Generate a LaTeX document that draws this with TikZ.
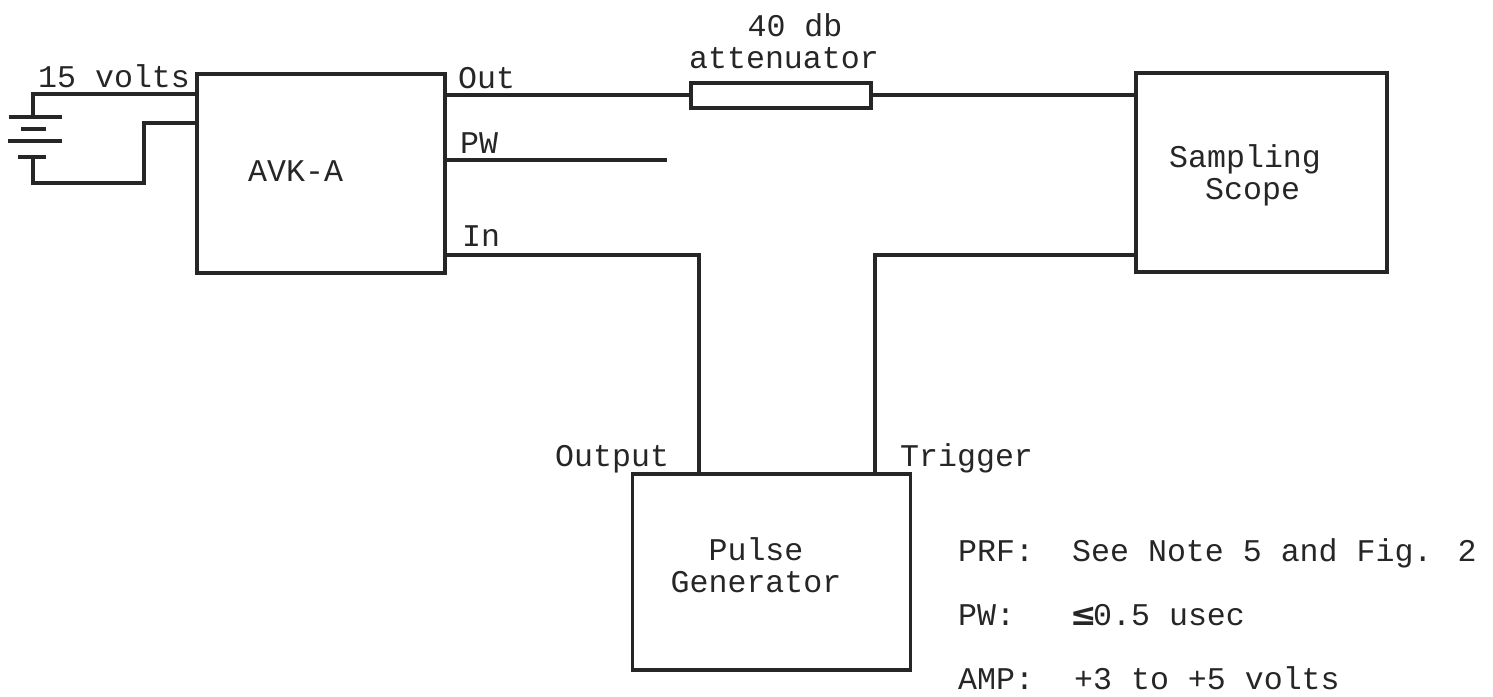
\documentclass[tikz,border=0pt]{standalone}
\usepackage{fontspec}
\setmainfont{Liberation Mono}
\newfontfamily\symfont{DejaVu Sans}
\tikzset{
 wire/.style={line width=3.2pt,black!85},
 box/.style={draw=black!85,line width=3.2pt,inner sep=0pt},
 lab/.style={inner sep=0pt,font=\fontsize{31.6pt}{34pt}\selectfont,text=black!85,align=center},
}
\begin{document}
\begin{tikzpicture}[x=1pt,y=-1pt]
\useasboundingbox (0,0) rectangle (1493,696);
\node[box,minimum width=248pt,minimum height=199pt] (avk) at (321,173.5) {};
\node[box,minimum width=180pt,minimum height=25pt] (att) at (781,95.5) {};
\node[box,minimum width=251pt,minimum height=199pt] (scope) at (1261.5,172.5) {};
\node[box,minimum width=278pt,minimum height=196pt] (gen) at (771.5,572) {};
\coordinate (batTop) at (33,94);
\coordinate (avkA) at (197,94);
\coordinate (avkB) at (197,123);
\coordinate (b1) at (144,123);
\coordinate (b2) at (144,183);
\coordinate (b3) at (33,183);
\coordinate (c1) at (33,117);
\coordinate (c2) at (33,157);
\coordinate (pA) at (445,160);
\coordinate (pB) at (667,160);
\coordinate (oA) at (445,95);
\coordinate (oB) at (691,95);
\coordinate (oC) at (871,95);
\coordinate (oD) at (1136,95);
\coordinate (iA) at (445,255);
\coordinate (iB) at (699,255);
\coordinate (iC) at (699,474);
\coordinate (tA) at (1136,255);
\coordinate (tB) at (875,255);
\coordinate (tC) at (875,474);
\draw[wire] (avkA) -- (batTop) -- (c1);
\draw[wire] (avkB) -- (b1) -- (b2) -- (b3) -- (c2);
\draw[wire] (9,117) -- (62,117);
\draw[wire] (21,129) -- (46,129);
\draw[wire] (8,141) -- (62,141);
\draw[wire] (18,157) -- (46,157);
\draw[wire] (oA) -- (oB);
\draw[wire] (oC) -- (oD);
\draw[wire] (pA) -- (pB);
\draw[wire] (iA) -- (iB) -- (iC);
\draw[wire] (tA) -- (tB) -- (tC);
\node[lab,anchor=base west] (l15) at (38,87) {15 volts};
\node[lab,anchor=base west] (lout) at (458,88) {Out};
\node[lab,anchor=base west] (lpw) at (460,153) {PW};
\node[lab,anchor=base west] (lin) at (462,246) {In};
\node[lab,anchor=base] (l40) at (795,36) {40 db};
\node[lab,anchor=base] (latt) at (784,68) {attenuator};
\node[lab,anchor=base west] (lavk) at (248,181) {AVK-A};
\node[lab,anchor=base west] (ls1) at (1169,167) {Sampling};
\node[lab,anchor=base west] (ls2) at (1205,199) {Scope};
\node[lab,anchor=base west] (lo) at (555,466) {Output};
\node[lab,anchor=base west] (lt) at (900,466) {Trigger};
\node[lab,anchor=base] (lg1) at (756,560) {Pulse};
\node[lab,anchor=base] (lg2) at (756,592) {Generator};
\node[lab,anchor=base west] (n1) at (958,561) {PRF:};
\node[lab,anchor=base west] (n1b) at (1072,561) {See Note 5 and Fig. 2};
\node[lab,anchor=base west] (n2) at (958,625) {PW:};
\node[lab,anchor=base west] (n2b) at (1070,625) {\makebox[23pt][l]{\symfont\bfseries ≤}0.5 usec};
\node[lab,anchor=base west] (n3) at (958,689) {AMP:};
\node[lab,anchor=base west] (n3b) at (1074,689) {+3 to +5 volts};
\end{tikzpicture}
\end{document}
